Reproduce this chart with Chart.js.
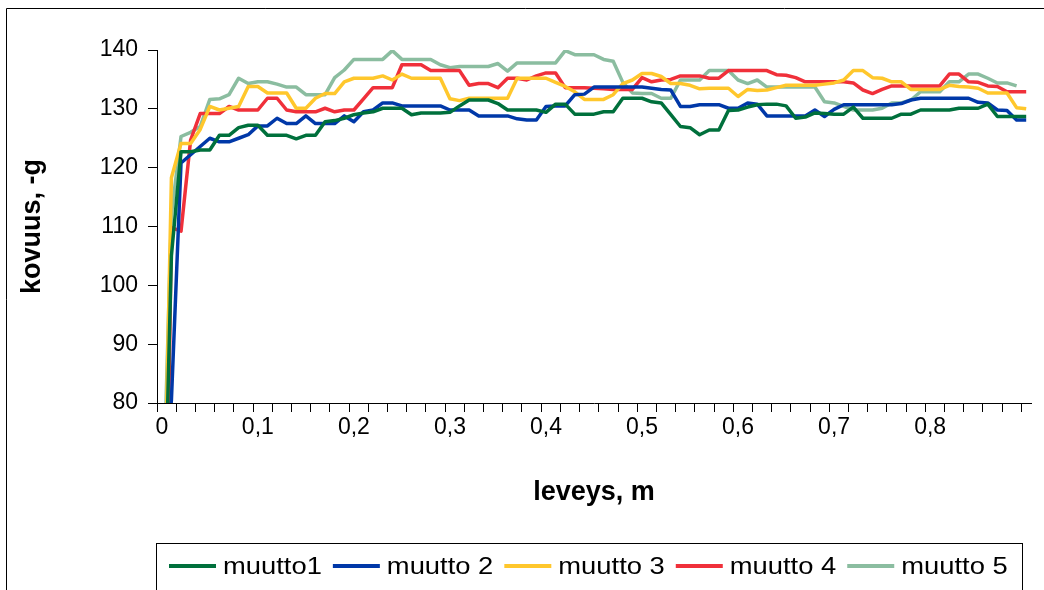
<!DOCTYPE html>
<html>
<head>
<meta charset="utf-8">
<script src="https://cdn.jsdelivr.net/npm/chart.js@4.4.0/dist/chart.umd.min.js"></script>
<style>
  html, body { margin: 0; padding: 0; background: #fff; }
  #wrap { width: 1044px; height: 590px; }
</style>
</head>
<body>
<div id="wrap"><canvas id="kovuusChart" width="1044" height="590"></canvas></div>
<script>
// Leveys (m), yksi piste per senttimetri
const leveys = [
    0, 0.01, 0.02, 0.03, 0.04, 0.05, 0.06, 0.07, 0.08, 0.09,
    0.1, 0.11, 0.12, 0.13, 0.14, 0.15, 0.16, 0.17, 0.18, 0.19,
    0.2, 0.21, 0.22, 0.23, 0.24, 0.25, 0.26, 0.27, 0.28, 0.29,
    0.3, 0.31, 0.32, 0.33, 0.34, 0.35, 0.36, 0.37, 0.38, 0.39,
    0.4, 0.41, 0.42, 0.43, 0.44, 0.45, 0.46, 0.47, 0.48, 0.49,
    0.5, 0.51, 0.52, 0.53, 0.54, 0.55, 0.56, 0.57, 0.58, 0.59,
    0.6, 0.61, 0.62, 0.63, 0.64, 0.65, 0.66, 0.67, 0.68, 0.69,
    0.7, 0.71, 0.72, 0.73, 0.74, 0.75, 0.76, 0.77, 0.78, 0.79,
    0.8, 0.81, 0.82, 0.83, 0.84, 0.85, 0.86, 0.87, 0.88, 0.89,
    0.9
];

// Akselin numerot (joka kymmenes piste)
const xTickLabels = ['0', '0,1', '0,2', '0,3', '0,4', '0,5', '0,6', '0,7', '0,8'];
const yTicks = { min: 80, max: 140, step: 10 };

// Kovuus, -g
const muutto1 = [
    40, 105, 122.7, 122.7, 123, 123, 125.5, 125.5, 126.8, 127.2,
    127.2, 125.5, 125.5, 125.5, 124.9, 125.5, 125.5, 127.8, 128, 128.4,
    129, 129.3, 129.5, 130.1, 130.1, 130.1, 129, 129.3, 129.3, 129.3,
    129.4, 130.5, 131.5, 131.5, 131.5, 130.9, 129.8, 129.8, 129.8, 129.8,
    129.4, 130.8, 130.8, 129.1, 129.1, 129.1, 129.5, 129.5, 131.8, 131.8,
    131.8, 131.2, 131, 129, 127, 126.8, 125.6, 126.4, 126.4, 129.7,
    129.8, 130.3, 130.7, 130.8, 130.8, 130.5, 128.4, 128.6, 129.3, 129.2,
    129.1, 129.1, 130.3, 128.4, 128.4, 128.4, 128.4, 129.1, 129.1, 129.8,
    129.8, 129.8, 129.8, 130.1, 130.1, 130.1, 130.8, 128.7, 128.7, 128.7,
    128.7
];
const muutto2 = [
    60, 80.5, 120.8, 122.2, 123.6, 125, 124.4, 124.4, 125, 125.6,
    127.1, 127.1, 128.4, 127.5, 127.5, 128.8, 127.5, 127.5, 127.5, 128.8,
    127.8, 129.5, 129.8, 131, 131, 130.5, 130.5, 130.5, 130.5, 130.5,
    129.8, 129.8, 129.8, 128.8, 128.8, 128.8, 128.8, 128.3, 128.1, 128.1,
    130.4, 130.5, 130.5, 132.4, 132.5, 133.7, 133.7, 133.7, 133.7, 133.7,
    133.7, 133.5, 133.3, 133.2, 130.4, 130.4, 130.7, 130.7, 130.7, 130.1,
    130.1, 131, 130.8, 128.8, 128.8, 128.8, 128.8, 128.8, 129.8, 128.7,
    129.9, 130.7, 130.7, 130.7, 130.7, 130.7, 130.7, 130.9, 131.5, 131.8,
    131.8, 131.8, 131.8, 131.8, 131.8, 131.1, 131, 129.8, 129.7, 128.1,
    128.1
];
const muutto3 = [
    40, 118.3, 124.1, 124.1, 126.5, 130.4, 129.8, 130.1, 130.4, 133.8,
    133.8, 132.7, 132.7, 132.7, 130.1, 130.1, 131.8, 132.6, 132.6, 134.6,
    135.2, 135.2, 135.2, 135.6, 134.9, 135.9, 135.2, 135.2, 135.2, 135.2,
    131.7, 131.4, 131.8, 131.8, 131.8, 131.8, 131.8, 135.2, 135.2, 135.2,
    135.2, 134.5, 133.8, 132.9, 131.6, 131.6, 131.6, 132.4, 134.3, 134.9,
    136, 136, 135.5, 134.3, 134.3, 134, 133.4, 133.5, 133.5, 133.5,
    132.1, 133.3, 133.1, 133.2, 133.6, 134, 134, 134, 134, 134.2,
    134.4, 134.9, 136.5, 136.5, 135.3, 135.2, 134.6, 134.6, 133.3, 133.3,
    133.3, 133.3, 134, 133.8, 133.7, 133.5, 132.7, 132.7, 132.7, 130.2,
    130
];
const muutto4 = [
    0, 109.8, 109.2, 124.7, 129.2, 129.2, 129.2, 130.4, 129.8, 129.8,
    129.8, 131.8, 131.8, 129.8, 129.5, 129.5, 129.5, 130.1, 129.5, 129.8,
    129.8, 131.7, 133.6, 133.6, 133.6, 137.5, 137.5, 137.5, 136.5, 136.5,
    136.5, 136.5, 134, 134.3, 134.3, 133.6, 135.2, 135.2, 134.9, 135.6,
    136.1, 136.1, 133.6, 133.6, 133.6, 133.5, 133.4, 133.3, 133.3, 133.3,
    135.3, 134.6, 134.9, 135, 135.6, 135.6, 135.6, 135.2, 135.2, 136.5,
    136.5, 136.5, 136.5, 136.5, 135.8, 135.7, 135.3, 134.6, 134.6, 134.6,
    134.6, 134.6, 134.4, 133.2, 132.6, 133.3, 133.9, 133.9, 133.9, 133.9,
    133.9, 133.9, 135.9, 135.9, 134.6, 134.5, 133.9, 133.8, 132.9, 132.9,
    132.9
];
const muutto5 = [
    55, 112, 125.3, 126, 127, 131.6, 131.7, 132.4, 135.2, 134.3,
    134.6, 134.6, 134.2, 133.7, 133.7, 132.4, 132.4, 132.4, 135.3, 136.6,
    138.4, 138.4, 138.4, 138.4, 139.9, 138.4, 138.4, 138.4, 138.4, 137.5,
    137, 137.2, 137.2, 137.2, 137.2, 137.7, 136.4, 137.8, 137.8, 137.8,
    137.8, 137.8, 139.9, 139.2, 139.2, 139.2, 138.4, 138.1, 134.5, 132.7,
    132.6, 132.6, 131.8, 131.8, 134.9, 134.9, 134.9, 136.5, 136.5, 136.5,
    134.9, 134.3, 134.9, 133.7, 133.7, 133.7, 133.7, 133.7, 133.7, 131.2,
    131, 130.4, 129.8, 129.8, 129.8, 130.1, 131, 131, 131.5, 132.9,
    132.9, 132.9, 134.6, 134.6, 135.9, 135.9, 135.2, 134.4, 134.4, 133.9
];

const seriesNames = ['muutto1', 'muutto 2', 'muutto 3', 'muutto 4', 'muutto 5'];
const seriesColors = ['#00703c', '#0038a8', '#ffc72c', '#f0303a', '#8bbda0'];

const FONT = "'Liberation Sans', Arial, sans-serif";

// Ulkokehys kaavion ympärillä
const frame = {
    id: 'frame',
    afterDraw(chart) {
        const ctx = chart.ctx;
        ctx.save();
        ctx.strokeStyle = '#000';
        ctx.lineWidth = 1;
        ctx.beginPath();
        ctx.moveTo(6.5, 600);
        ctx.lineTo(6.5, 8.5);
        ctx.lineTo(1044, 8.5);
        ctx.stroke();
        ctx.restore();
    }
};

// Selite laatikossa kaavion alla; teksti hieman leveämpänä
const boxLegend = {
    id: 'boxLegend',
    afterDraw(chart) {
        const ctx = chart.ctx;
        const stretch = 1.14;
        ctx.save();
        ctx.strokeStyle = '#000';
        ctx.lineWidth = 1;
        ctx.strokeRect(156.5, 543.5, 866, 80);
        ctx.font = '24px ' + FONT;
        ctx.textBaseline = 'middle';
        ctx.fillStyle = '#000';
        let x = 169;
        const y = 566;
        chart.data.datasets.forEach(ds => {
            ctx.strokeStyle = ds.borderColor;
            ctx.lineWidth = 4;
            ctx.lineCap = 'butt';
            ctx.beginPath();
            ctx.moveTo(x, y);
            ctx.lineTo(x + 47, y);
            ctx.stroke();
            const tx = x + 54;
            ctx.save();
            ctx.translate(tx, y + 1);
            ctx.scale(stretch, 1);
            ctx.fillText(ds.label, 0, 0);
            ctx.restore();
            x = tx + ctx.measureText(ds.label).width * stretch + 11;
        });
        ctx.restore();
    }
};

const datasets = [muutto1, muutto2, muutto3, muutto4, muutto5].map((values, i) => ({
    label: seriesNames[i],
    data: values,
    borderColor: seriesColors[i],
    backgroundColor: seriesColors[i],
    borderWidth: 3.5,
    pointRadius: 0,
    tension: 0,
    borderJoinStyle: 'round',
    fill: false
}));

new Chart(document.getElementById('kovuusChart'), {
    type: 'line',
    data: { labels: leveys, datasets },
    options: {
        responsive: false,
        animation: false,
        layout: { padding: { left: 0, top: 50, right: 13, bottom: 77 } },
        plugins: {
            legend: { display: false },
            tooltip: { enabled: false }
        },
        scales: {
            x: {
                type: 'category',
                offset: true,
                grid: {
                    offset: true,
                    drawOnChartArea: false,
                    drawTicks: true,
                    tickLength: 9,
                    tickWidth: 1,
                    tickColor: ctx => (ctx.index % 2 === 0 ? '#000' : 'rgba(0,0,0,0)')
                },
                border: { color: '#000', width: 1 },
                ticks: {
                    autoSkip: false,
                    maxRotation: 0,
                    padding: 2,
                    color: '#000',
                    font: { family: FONT, size: 23 },
                    callback: (value, index) => (index % 10 === 0 ? (xTickLabels[index / 10] || '') : '')
                },
                title: {
                    display: true,
                    text: 'leveys, m',
                    color: '#000',
                    font: { family: FONT, size: 27, weight: 'bold' },
                    padding: { top: 0, bottom: 4 }
                },
                afterFit: scale => { scale.height = 110; }
            },
            y: {
                min: yTicks.min,
                max: yTicks.max,
                grid: {
                    drawOnChartArea: false,
                    drawTicks: true,
                    tickLength: 9,
                    tickColor: '#000'
                },
                border: { color: '#000', width: 1 },
                ticks: {
                    stepSize: yTicks.step,
                    padding: 10,
                    color: '#000',
                    font: { family: FONT, size: 23 }
                },
                title: {
                    display: true,
                    text: 'kovuus, -g',
                    color: '#000',
                    font: { family: FONT, size: 27, weight: 'bold' },
                    padding: { top: 16, bottom: 0 }
                },
                afterFit: scale => { scale.width = 157; }
            }
        }
    },
    plugins: [frame, boxLegend]
});
</script>
</body>
</html>
